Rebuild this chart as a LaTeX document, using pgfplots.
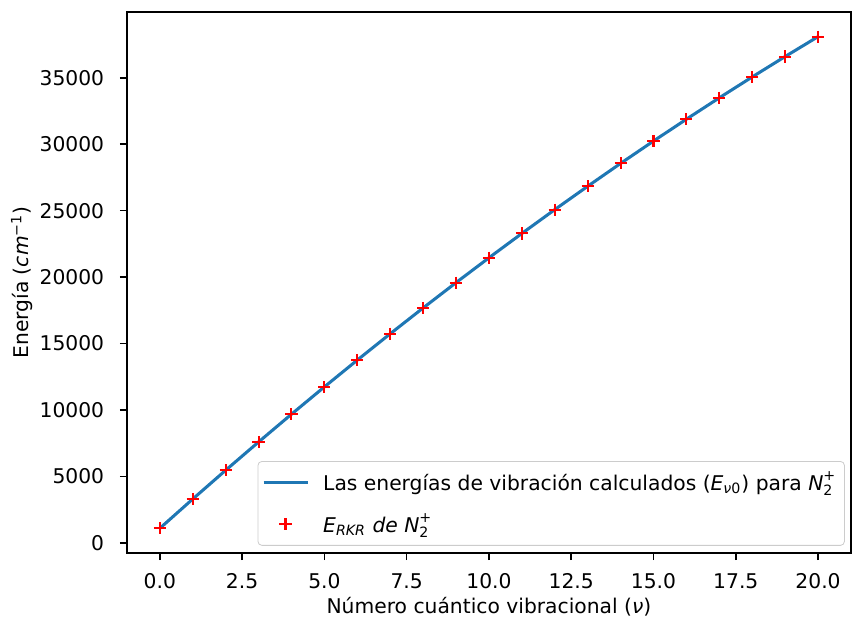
\documentclass[border=0pt]{standalone}
\usepackage{fontspec}
\setmainfont{DejaVu Sans}
\usepackage{amsmath}
\usepackage{pgfplots}
\pgfplotsset{compat=1.18}
\usetikzlibrary{calc}
\definecolor{mplblue}{HTML}{1F77B4}

\pgfplotstableread{
v E
0 1090
1 3294
2 5460
3 7589
4 9681
5 11736
6 13754
7 15734
8 17678
9 19584
10 21453
11 23285
12 25080
13 26837
14 28558
15 30241
16 31887
17 33496
18 35068
19 36603
20 38100
}\calctable

\pgfplotstableread{
v E
0 1090
1 3294
2 5460
3 7589
4 9681
5 11736
6 13754
7 15734
8 17678
9 19584
10 21453
11 23285
12 25080
13 26837
14 28558
15 30241
16 31887
17 33496
18 35068
19 36603
20 38100
}\rkrtable

\begin{document}
\begin{tikzpicture}[font=\fontsize{10}{12}\selectfont]
\begin{axis}[
  width=357.1pt, height=266.8pt, scale only axis,
  xmin=-1, xmax=21, ymin=-761, ymax=39959,
  xtick={0,2.5,...,20},
  ytick={0,5000,10000,15000,20000,25000,30000,35000},
  xtick pos=left, ytick pos=left,
  tick align=outside, major tick length=3.5pt,
  every tick/.style={black, line width=0.8pt},
  axis line style={line width=0.8pt},
  /pgf/number format/assume math mode=true,
  scaled x ticks=false, scaled y ticks=false,
  x tick label style={/pgf/number format/.cd, fixed, fixed zerofill, precision=1, /tikz/.cd, yshift=-3pt},
  y tick label style={/pgf/number format/.cd, fixed, 1000 sep={}, /tikz/.cd, xshift=-4.2pt},
  tick label style={font=\fontsize{10}{12}\selectfont},
  xlabel={Número cuántico vibracional (\textit{ν})},
  ylabel={Energía (\textit{cm}$^{\text{−1}}$)},
  xlabel style={at={(axis description cs:0.5,-0.1)}, anchor=center},
  ylabel style={at={(axis description cs:-0.145,0.5)}, anchor=center},
  legend cell align=left,
  legend image code/.code={\draw[mark repeat=2, mark phase=2, #1] plot coordinates {(0pt,0pt) (10.85pt,0pt) (21.7pt,0pt)};},
  legend style={at={(1,0)}, anchor=south east, xshift=-3pt, yshift=3.5pt,
    draw=black!20, rounded corners=2pt, fill=white, fill opacity=0.8,
    draw opacity=1, text opacity=1,
    font=\fontsize{10}{12}\selectfont, inner xsep=2pt, inner ysep=3pt,
    row sep=6pt,
    /tikz/every odd column/.append style={column sep=5pt}},
]
\addplot[mplblue, line width=1.5pt, no markers] table[x=v, y=E] {\calctable};
\addlegendentry{Las energías de vibración calculados ($\textit{E}_{\textit{ν}\text{0}}$) para $\textit{N}_{\text{2}}^{\text{+}}$}
\addplot[red, only marks, mark=+, mark size=3pt, line width=1pt] table[x=v, y=E] {\rkrtable};
\addlegendentry{$\textit{E}_{\textit{RKR}}$ \textit{de} $\textit{N}_{\text{2}}^{\text{+}}$\rule[-8pt]{0pt}{0pt}}
\end{axis}
\pgfresetboundingbox
\path ($(current axis.south west)+(-62.6pt,-33.5pt)$) rectangle ($(current axis.north east)+(1pt,5.9pt)$);
\end{tikzpicture}
\end{document}
